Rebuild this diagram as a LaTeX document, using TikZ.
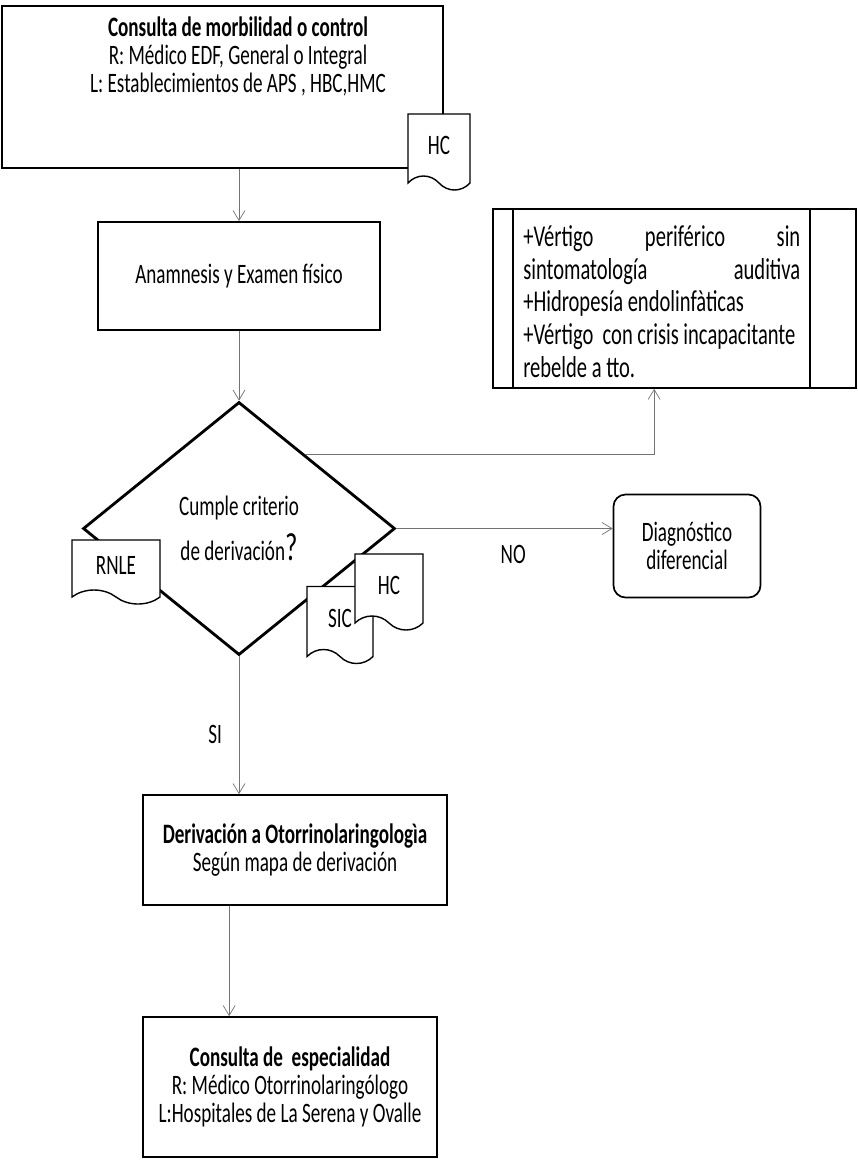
\documentclass[tikz,border=0pt]{standalone}
\usepackage{fontspec}
\setmainfont{Carlito}[FakeStretch=0.68]
\usepackage{tikz}
\usetikzlibrary{shapes.geometric, shapes.symbols, arrows.meta, positioning, calc}

\begin{document}
\begin{tikzpicture}[
    x=0.25mm, y=-0.25mm,
    every node/.style={font=\fontsize{20}{20}\selectfont},
    box/.style={rectangle, draw, line width=1.2pt, align=center, inner sep=0pt},
    doc/.style={tape, draw, fill=white, line width=1pt, tape bend top=none, tape bend bottom=out and in, tape bend height=3.5mm, inner sep=0pt, align=center},
    arrow/.style={draw=black!55, line width=0.5pt, -{Straight Barb[length=2.5mm, width=3mm]}}
]
    \useasboundingbox (0,0) rectangle (858,1163);

    % Nodes
    \node[box, minimum width=110.25mm, minimum height=40.5mm] (consulta) at (222.5,87) {};
    \node[align=center, anchor=north, inner sep=0pt] (consultatxt) at (238,16) {\textbf{Consulta de morbilidad o control}\\R: Médico EDF, General o Integral\\L: Establecimientos de APS , HBC,HMC};
    \node[box, minimum width=70.5mm, minimum height=27mm] (anamnesis) at (239,276) {Anamnesis y Examen físico};
    \node[box, minimum width=90.75mm, minimum height=44.75mm] (criterios) at (674.5,298.5) {};
    \draw[line width=1.2pt] ($(criterios.north west)+(21,0)$) -- ($(criterios.south west)+(21,0)$);
    \draw[line width=1.2pt] ($(criterios.north east)+(-47,0)$) -- ($(criterios.south east)+(-47,0)$);
    \node[align=left, text width=69.25mm, anchor=north west, inner sep=0pt, font=\fontsize{21.5}{23.4}\selectfont] (criteriostxt) at (523,225) {\spaceskip=0pt\xspaceskip=0pt +Vértigo \hfill periférico \hfill sin\\sintomatología \hfill auditiva\\+Hidropesía endolinfàticas\\+Vértigo~ con crisis incapacitante\\rebelde a tto.};
    \node[diamond, draw, line width=2pt, minimum width=78mm, minimum height=63.25mm, inner sep=0pt, align=center] (decision) at (239,528.5) {Cumple criterio\\[3mm]de derivación{\fontsize{28}{28}\selectfont ?}};
    \node[box, rounded corners=3mm, minimum width=36.75mm, minimum height=25.75mm] (diag) at (687,546) {Diagnóstico\\diferencial};
    \node[box, minimum width=76mm, minimum height=27.5mm] (deriv) at (295,850) {\textbf{Derivación a Otorrinolaringologìa}\\Según mapa de derivación};
    \node[box, minimum width=73.5mm, minimum height=35mm] (espec) at (290,1087) {\textbf{Consulta de~ especialidad}\\R: Médico Otorrinolaringólogo\\L:Hospitales de La Serena y Ovalle};

    % Connections
    \draw[arrow] (anamnesis.north |- consulta.south) -- (anamnesis.north);
    \draw[arrow] (anamnesis) -- (decision);
    \coordinate (critin) at ($(criterios.south west)+(162,0)$);
    \coordinate (decout) at ($(decision.north)!0.42!(decision.east)$);
    \draw[arrow] (decout) -| (critin);
    \draw[arrow] (decision.east) -- node[pos=0.54, below=3mm] (notxt) {NO} (decision.east -| diag.west);
    \draw[arrow] (decision.south) -- node[pos=0.57, left=3mm] (sitxt) {SI} (decision.south |- deriv.north);
    \coordinate (derivout) at ($(deriv.south west)+(87,0)$);
    \draw[arrow] (derivout) -- (derivout |- espec.north);

    % Documents
    \node[doc, minimum width=15.5mm, minimum height=19mm] (hcA) at (439,145) {HC};
    \node[doc, minimum width=22mm, minimum height=16mm] (rnle) at (116,565) {RNLE};
    \node[doc, minimum width=16.5mm, minimum height=19.25mm] (sic) at (340,618) {SIC};
    \node[doc, minimum width=17mm, minimum height=19mm] (hcB) at (389,585) {HC};
\end{tikzpicture}
\end{document}
